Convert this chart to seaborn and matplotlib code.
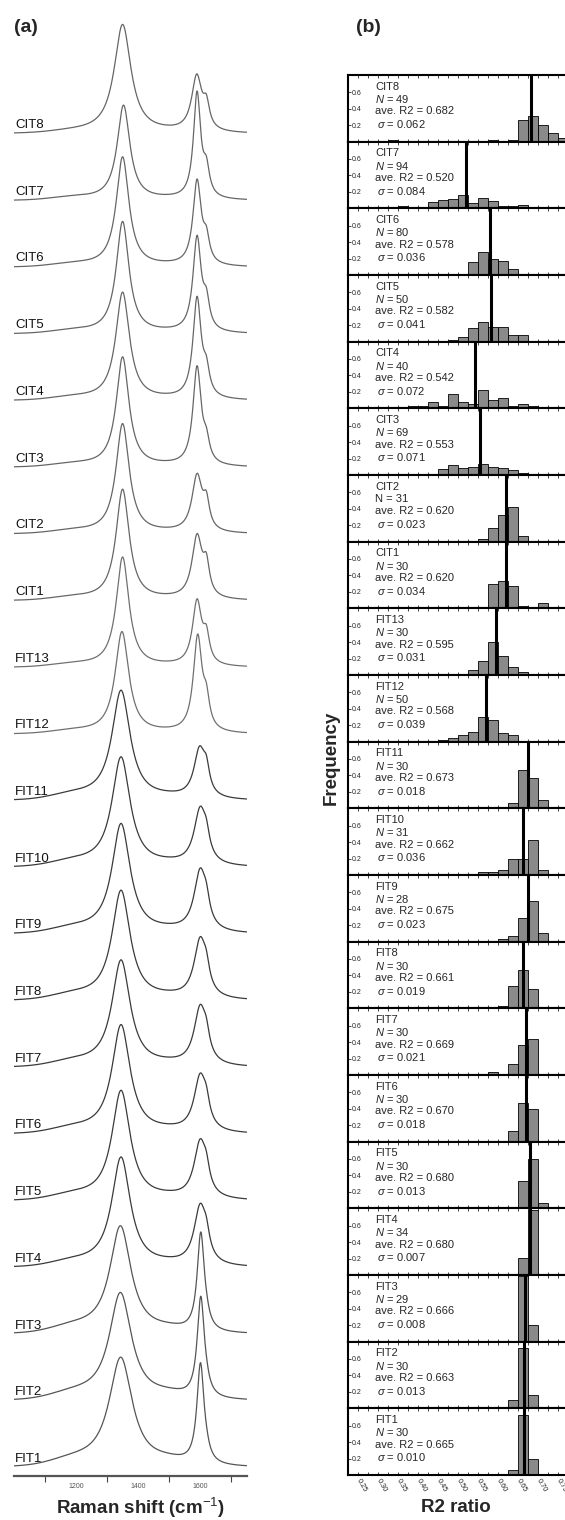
import numpy as np
import pandas as pd
import seaborn as sns
import matplotlib.pyplot as plt
from matplotlib.ticker import MultipleLocator

W, H, DPI = 565, 1520, 100

# samples, top to bottom (same order in both panels)
SAMPLES = ["CIT8", "CIT7", "CIT6", "CIT5", "CIT4", "CIT3", "CIT2", "CIT1",
           "FIT13", "FIT12", "FIT11", "FIT10", "FIT9", "FIT8", "FIT7", "FIT6",
           "FIT5", "FIT4", "FIT3", "FIT2", "FIT1"]

# ---- (b) R2 ratio histograms ----
N_VALUES = [49, 94, 80, 50, 40, 69, 31, 30, 30, 50, 30, 31, 28, 30, 30, 30, 30, 34, 29, 30, 30]
AVE_R2 = [0.682, 0.520, 0.578, 0.582, 0.542, 0.553, 0.620, 0.620, 0.595, 0.568, 0.673,
          0.662, 0.675, 0.661, 0.669, 0.670, 0.680, 0.680, 0.666, 0.663, 0.665]
SIGMA = [0.062, 0.084, 0.036, 0.041, 0.072, 0.071, 0.023, 0.034, 0.031, 0.039, 0.018,
         0.036, 0.023, 0.019, 0.021, 0.018, 0.013, 0.007, 0.008, 0.013, 0.010]
N_UPRIGHT = ["CIT2"]  # this one is printed with a plain N in the original

BIN_EDGES = [round(0.225 + 0.025 * k, 3) for k in range(23)]
# counts per bin, bins start at 0.225, 0.250, ... 0.750
COUNTS = [
    [0, 0, 0, 0, 1, 0, 0, 0, 0, 0, 0, 0, 0, 0, 1, 0, 1, 13, 15, 10, 5, 2],   # CIT8
    [0, 0, 0, 1, 0, 3, 0, 0, 7, 10, 11, 15, 6, 12, 8, 3, 3, 4, 1, 0, 0, 0],  # CIT7
    [0, 0, 0, 0, 0, 0, 0, 0, 0, 0, 1, 1, 13, 22, 16, 14, 6, 0, 0, 0, 0, 0],  # CIT6
    [0, 0, 0, 0, 0, 0, 0, 0, 0, 0, 1, 3, 8, 12, 9, 9, 4, 4, 0, 0, 0, 0],     # CIT5
    [0, 0, 0, 0, 0, 0, 1, 1, 3, 1, 7, 3, 2, 9, 4, 5, 1, 2, 1, 0, 0, 0],      # CIT4
    [0, 0, 0, 0, 1, 0, 0, 0, 1, 5, 8, 6, 7, 9, 7, 6, 4, 2, 1, 1, 1, 0],      # CIT3
    [0, 0, 0, 0, 0, 0, 0, 0, 0, 0, 0, 0, 0, 1, 5, 10, 13, 2, 0, 0, 0, 0],    # CIT2
    [0, 0, 0, 0, 0, 0, 0, 0, 0, 0, 0, 0, 0, 0, 9, 10, 8, 1, 0, 2, 0, 0],     # CIT1
    [0, 0, 0, 0, 0, 0, 0, 0, 0, 0, 0, 0, 2, 5, 12, 7, 3, 1, 0, 0, 0, 0],     # FIT13
    [0, 0, 0, 0, 0, 0, 0, 0, 0, 1, 2, 4, 6, 15, 13, 5, 4, 0, 0, 0, 0, 0],    # FIT12
    [0, 0, 0, 0, 0, 0, 0, 0, 0, 0, 0, 0, 0, 0, 0, 0, 2, 14, 11, 3, 0, 0],    # FIT11
    [0, 0, 0, 0, 0, 0, 0, 0, 0, 0, 0, 0, 0, 1, 1, 2, 6, 6, 13, 2, 0, 0],     # FIT10
    [0, 0, 0, 0, 0, 0, 0, 0, 0, 0, 0, 0, 0, 0, 0, 1, 2, 8, 14, 3, 0, 0],     # FIT9
    [0, 0, 0, 0, 0, 0, 0, 0, 0, 0, 0, 0, 0, 0, 0, 1, 8, 14, 7, 0, 0, 0],     # FIT8
    [0, 0, 0, 0, 0, 0, 0, 0, 0, 0, 0, 0, 0, 0, 1, 0, 4, 11, 13, 0, 0, 0],    # FIT7
    [0, 0, 0, 0, 0, 0, 0, 0, 0, 0, 0, 0, 0, 0, 0, 0, 4, 14, 12, 0, 0, 0],    # FIT6
    [0, 0, 0, 0, 0, 0, 0, 0, 0, 0, 0, 0, 0, 0, 0, 0, 0, 10, 18, 2, 0, 0],    # FIT5
    [0, 0, 0, 0, 0, 0, 0, 0, 0, 0, 0, 0, 0, 0, 0, 0, 0, 7, 27, 0, 0, 0],     # FIT4
    [0, 0, 0, 0, 0, 0, 0, 0, 0, 0, 0, 0, 0, 0, 0, 0, 0, 23, 6, 0, 0, 0],     # FIT3
    [0, 0, 0, 0, 0, 0, 0, 0, 0, 0, 0, 0, 0, 0, 0, 0, 3, 22, 5, 0, 0, 0],     # FIT2
    [0, 0, 0, 0, 0, 0, 0, 0, 0, 0, 0, 0, 0, 0, 0, 0, 2, 22, 6, 0, 0, 0],     # FIT1
]
R2_TICKS = [0.25, 0.30, 0.35, 0.40, 0.45, 0.50, 0.55, 0.60, 0.65, 0.70, 0.75]
FREQ_TICKS = [0.2, 0.4, 0.6]

# ---- (a) Raman spectra, band parameters ----
# heights in a.u., where one stacking step = 66.7 a.u.
SPEC_D_POS = [1350, 1353, 1350, 1350, 1350, 1350, 1350, 1350, 1350, 1348, 1345,
              1345, 1345, 1345, 1345, 1345, 1345, 1345, 1343, 1343, 1344]
SPEC_D_HWHM = [33, 25, 25, 25, 27, 25, 26, 26, 25, 27, 36, 36, 36, 36, 36, 36, 36, 37, 42, 44, 46]
SPEC_D_HEIGHT = [109, 95, 110, 112, 108, 110, 110, 111, 110, 102, 110,
                 110, 110, 110, 107, 109, 110, 110, 108, 108, 110]
SPEC_G_POS = [1589, 1590, 1590, 1590, 1590, 1590, 1590, 1590, 1590, 1592, 1598,
              1600, 1600, 1600, 1600, 1600, 1600, 1600, 1602, 1602, 1601]
SPEC_G_HWHM = [20, 14, 16, 16, 16, 16, 20, 20, 18, 17, 22, 24, 24, 24, 24, 24, 24, 24, 14, 14, 14]
SPEC_G_HEIGHT = [55, 105, 84, 94, 100, 98, 56, 62, 64, 95, 48, 55, 60, 58, 57, 55, 56, 58, 98, 100, 100]
SPEC_DP_HEIGHT = [22, 25, 22, 25, 22, 18, 25, 28, 25, 25, 20, 15, 15, 15, 15, 15, 15, 15, 5, 5, 5]
SPEC_D4_HEIGHT = [2, 3, 3, 3, 3, 3, 3, 3, 3, 3, 5, 5, 5, 5, 5, 5, 5, 5, 6, 6, 6]
SPEC_D3_HEIGHT = [1, 1, 1, 1, 1, 1, 1, 1, 1, 1, 2, 2, 2, 2, 2, 2, 2, 2, 3, 4, 4]
RAMAN_LABELED = [1200, 1400, 1600]
RAMAN_MINOR = [1100, 1300, 1500, 1700]

STEP = 66.7
LINE_SHADE = ["#666666"] * 8 + ["#707070"] * 2 + ["#3a3a3a"] * 8 + ["#555555"] * 3


def lorentz(x, pos, hwhm, h):
    return h / (1 + ((x - pos) / hwhm) ** 2)


def gauss(x, pos, sd, h):
    return h * np.exp(-0.5 * ((x - pos) / sd) ** 2)


sns.set_theme(style="white")
plt.rcParams['font.family'] = ['Liberation Sans', 'DejaVu Sans']
plt.rcParams['mathtext.fontset'] = 'custom'
plt.rcParams['mathtext.rm'] = 'Liberation Sans'
plt.rcParams['mathtext.it'] = 'Liberation Sans:italic'
plt.rcParams['mathtext.bf'] = 'Liberation Sans:bold'

fig = plt.figure(figsize=(W / DPI, H / DPI), dpi=DPI)

# ========== (a) stacked spectra ==========
ax_a = fig.add_axes([14 / W, (H - 1476) / H, (246.7 - 14) / W, (1476 - 20) / H])
x = np.linspace(1000, 1750, 1501)
n = len(SAMPLES)
for i, name in enumerate(SAMPLES):
    base = (n - 1 - i) * STEP
    y = (base
         + lorentz(x, SPEC_D_POS[i], SPEC_D_HWHM[i], SPEC_D_HEIGHT[i])
         + lorentz(x, SPEC_G_POS[i], SPEC_G_HWHM[i], SPEC_G_HEIGHT[i])
         + lorentz(x, 1620, 12, SPEC_DP_HEIGHT[i])
         + gauss(x, 1190, 70, SPEC_D4_HEIGHT[i])
         + gauss(x, 1500, 50, SPEC_D3_HEIGHT[i]))
    sns.lineplot(x=x, y=y, ax=ax_a, color=LINE_SHADE[i], linewidth=0.9,
                 estimator=None, sort=False)
    ax_a.text(1003, base + 3, name, fontsize=9.5, ha='left', va='bottom', color='#111111')

ax_a.set_xlim(1000, 1750)
ax_a.set_ylim(-8, 1448)
ax_a.set_yticks([])
ax_a.set_xticks(RAMAN_LABELED)
ax_a.set_xticks(RAMAN_MINOR, minor=True)
ax_a.set_xticklabels([str(v) for v in RAMAN_LABELED])
ax_a.tick_params(axis='x', which='major', length=0, labelsize=5, labelcolor='#555555', pad=5)
ax_a.tick_params(axis='x', which='minor', direction='out', length=4, width=0.8,
                 color='#444444', bottom=True)
for s in ['left', 'right', 'top']:
    ax_a.spines[s].set_visible(False)
ax_a.spines['bottom'].set_linewidth(1.6)
ax_a.spines['bottom'].set_color('#555555')
ax_a.set(xlabel='', ylabel='')

# ========== (b) histograms ==========
centers = [(a + b) / 2 for a, b in zip(BIN_EDGES[:-1], BIN_EDGES[1:])]
top_px = 75.0
panel_h = 1400.0 / n
left_px = 348.3
for i, name in enumerate(SAMPLES):
    top = top_px + i * panel_h
    ax = fig.add_axes([left_px / W, (H - top - panel_h) / H, (W - left_px) / W, panel_h / H])
    df = pd.DataFrame({"r2": centers, "count": COUNTS[i]})
    df = df[df["count"] > 0]
    df["freq"] = df["count"] / N_VALUES[i]
    sns.histplot(data=df, x="r2", weights="freq", bins=BIN_EDGES,
                 stat='count', ax=ax, color='#8a8a8a', edgecolor='black',
                 linewidth=0.6, alpha=1)
    ax.axvline(AVE_R2[i], color='black', linewidth=2.2, zorder=4)
    ax.set_xlim(0.225, 0.225 + (W - left_px) / 400.0)
    ax.set_ylim(0, 0.81)
    ax.set(xlabel='', ylabel='')

    tx = 0.123
    ax.text(tx, 0.825, name, transform=ax.transAxes, fontsize=8, va='center')
    n_txt = f"N = {N_VALUES[i]}" if name in N_UPRIGHT else f"$N$ = {N_VALUES[i]}"
    ax.text(tx, 0.639, n_txt, transform=ax.transAxes, fontsize=8, va='center')
    ax.text(tx, 0.453, f"ave. R2 = {AVE_R2[i]:.3f}", transform=ax.transAxes,
            fontsize=8, va='center')
    ax.text(tx + 0.01, 0.267, f"$\\sigma$ = {SIGMA[i]:.3f}", transform=ax.transAxes,
            fontsize=8, va='center')

    ax.set_yticks(FREQ_TICKS)
    ax.set_yticklabels([f"{v:.1f}" for v in FREQ_TICKS])
    ax.tick_params(axis='y', direction='in', length=2, width=0.6, labelsize=5,
                   pad=-2.5, left=True)
    for t in ax.get_yticklabels():
        t.set_horizontalalignment('left')

    ax.set_xticks(R2_TICKS)
    ax.xaxis.set_minor_locator(MultipleLocator(0.025))
    ax.tick_params(axis='x', which='both', direction='in', length=2, width=0.6,
                   top=True, bottom=True, labelbottom=(i == n - 1))
    if i == n - 1:
        ax.set_xticklabels([f"{v:.2f}" for v in R2_TICKS], rotation=-60, ha='left',
                           va='center', rotation_mode='anchor', fontsize=5.3)
        ax.tick_params(axis='x', pad=3)

    for s in ['left', 'top', 'bottom']:
        ax.spines[s].set_linewidth(1.5)
        ax.spines[s].set_color('black')
    ax.spines['right'].set_visible(False)

# ---- labels ----
fig.text(14 / W, 1 - 27 / H, "(a)", fontsize=14, weight='bold', ha='left', va='center')
fig.text(356 / W, 1 - 27 / H, "(b)", fontsize=14, weight='bold', ha='left', va='center')
fig.text(331 / W, 1 - 758 / H, "Frequency", fontsize=13.5, weight='bold', rotation=90,
         ha='center', va='center')
fig.text(456 / W, 1 - 1508 / H, "R2 ratio", fontsize=13.5, weight='bold',
         ha='center', va='center')
fig.text(140 / W, 1 - 1508 / H, "Raman shift (cm$^{-1}$)", fontsize=13.5, weight='bold',
         ha='center', va='center')

fig.savefig("out.png", dpi=DPI)
